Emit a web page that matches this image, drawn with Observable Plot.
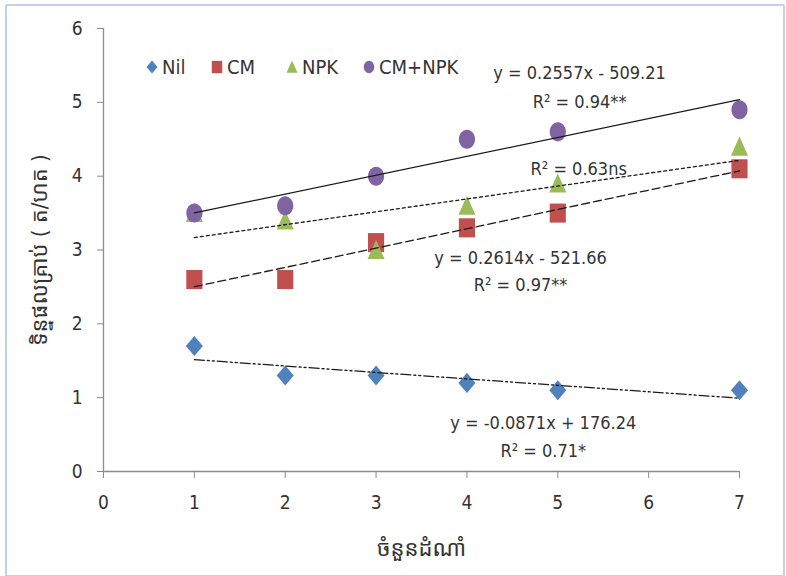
<!DOCTYPE html>
<html>
<head>
<meta charset="utf-8">
<script src="https://cdn.jsdelivr.net/npm/d3@7"></script>
<script src="https://cdn.jsdelivr.net/npm/@observablehq/plot@0.6"></script>
<style>
  html, body { margin: 0; padding: 0; background: #fff; }
  #wrap { position: relative; width: 786px; height: 576px; overflow: hidden;
          font-family: "Liberation Sans Narrow", "DejaVu Sans Condensed", "Open Sans", sans-serif; }
  #frame { position: absolute; left: 5px; top: 4px; width: 776px; height: 569px;
           border: 2px solid #bcd3ee; border-radius: 2px; pointer-events: none; }
  #legend { position: absolute; left: 145px; top: 55px; display: flex; align-items: center;
            font-size: 20px; color: #333; }
  #legend .item { display: flex; align-items: center; }
  #legend .item:nth-child(1) { width: 65px; }
  #legend .item:nth-child(2) { width: 75px; }
  #legend .item:nth-child(3) { width: 77px; }
  #legend svg { margin-right: 3px; }
  #chart { position: absolute; left: 0; top: 0; }
  #chart g[aria-label="x-axis label"], #chart g[aria-label="y-axis label"] { font-size: 22px; }
</style>
</head>
<body>
<div id="wrap">
  <div id="chart"></div>
  <div id="legend"></div>
  <div id="frame"></div>
</div>
<script>
// ---- data ----
const xs = [1, 2, 3, 4, 5, 7];
const nil = [1.7, 1.3, 1.3, 1.2, 1.1, 1.1];
const cm = [2.6, 2.6, 3.1, 3.3, 3.5, 4.1];
const npk = [3.5, 3.4, 3.0, 3.6, 3.9, 4.4];
const cmnpk = [3.5, 3.6, 4.0, 4.5, 4.6, 4.9];
const seriesNames = ["Nil", "CM", "NPK", "CM+NPK"];
const seriesColors = ["#4F81BD", "#C0504D", "#9BBB59", "#8064A2"];
const trendDash = ["10,3,2,3,2,3", "8,4", "3,3", null];
const xTicks = [0, 1, 2, 3, 4, 5, 6, 7];
const yTicks = [0, 1, 2, 3, 4, 5, 6];
const xTitle = "ចំនួនដំណាំ";
const yTitle = "ទិន្នផលគ្រាប់ ( ត/ហត )";
const annText = ["y = 0.2557x - 509.21", "R² = 0.94**", "R² = 0.63ns",
                 "y = 0.2614x - 521.66", "R² = 0.97**", "y = -0.0871x + 176.24", "R² = 0.71*"];
const annX = [5.24, 5.24, 5.23, 4.59, 4.59, 4.84, 4.84];
const annY = [5.39, 5.0, 4.1, 2.89, 2.52, 0.66, 0.28];

// ---- symbols (slightly taller than wide, like the source) ----
const K = 1.18;
function half(size) { return Math.sqrt(size / Math.PI); }
const symDiamond = { draw(c, s) { const a = half(s), b = a * K;
  c.moveTo(0, -b); c.lineTo(a, 0); c.lineTo(0, b); c.lineTo(-a, 0); c.closePath(); } };
const symSquare = { draw(c, s) { const a = half(s) * 0.95, b = a * K;
  c.moveTo(-a, -b); c.lineTo(a, -b); c.lineTo(a, b); c.lineTo(-a, b); c.closePath(); } };
const symTriangle = { draw(c, s) { const a = half(s), b = a * K;
  c.moveTo(0, -b); c.lineTo(a, b * 0.9); c.lineTo(-a, b * 0.9); c.closePath(); } };
const symEllipse = { draw(c, s) { const a = half(s) * 0.95, b = a * K, k = 0.5523;
  c.moveTo(a, 0);
  c.bezierCurveTo(a, b * k, a * k, b, 0, b);
  c.bezierCurveTo(-a * k, b, -a, b * k, -a, 0);
  c.bezierCurveTo(-a, -b * k, -a * k, -b, 0, -b);
  c.bezierCurveTo(a * k, -b, a, -b * k, a, 0);
  c.closePath(); } };
const symbols = [symDiamond, symSquare, symTriangle, symEllipse];

const seriesValues = [nil, cm, npk, cmnpk];
const tables = seriesValues.map((vals, i) => xs.map((x, j) => ({x, y: vals[j], series: seriesNames[i]})));
const annotations = annText.map((t, i) => ({text: t, x: annX[i], y: annY[i]}));

const font = '"Liberation Sans Narrow", "DejaVu Sans Condensed", "Noto Sans Khmer", "Khmer OS", sans-serif';

const marks = [
  Plot.ruleY([0], {stroke: "#8c8c8c", strokeWidth: 1.3}),
  Plot.ruleX([0], {stroke: "#8c8c8c", strokeWidth: 1.3}),
  Plot.axisX({ticks: xTicks, tickFormat: d3.format("d"), tickSize: 7, tickPadding: 17, stroke: "#8c8c8c", fill: "#333",
              fontSize: 19, label: xTitle, labelAnchor: "center", labelArrow: "none", labelOffset: 84}),
  Plot.axisY({ticks: yTicks, tickFormat: d3.format("d"), tickSize: 6, tickPadding: 15, stroke: "#8c8c8c", fill: "#333",
              fontSize: 19, label: yTitle, labelAnchor: "center", labelArrow: "none", labelOffset: 72}),
  ...tables.map((t, i) => Plot.dot(t, {x: "x", y: "y", r: 8.5, symbol: symbols[i], fill: seriesColors[i], stroke: null})),
  ...tables.map((t, i) => Plot.linearRegressionY(t, {x: "x", y: "y", ci: 0, stroke: "#1a1a1a",
              strokeWidth: 1.3, strokeDasharray: trendDash[i] || undefined})),
  Plot.text(annotations, {x: "x", y: "y", text: "text", fontSize: 18, fill: "#333"})
];

const chart = Plot.plot({
  width: 786, height: 576,
  marginLeft: 103, marginRight: 47, marginTop: 28, marginBottom: 105,
  x: {domain: [0, 7], axis: null},
  y: {domain: [0, 6], axis: null},
  style: {fontFamily: font, background: "#fff", overflow: "visible"},
  marks
});
document.getElementById("chart").appendChild(chart);

// ---- legend ----
const legend = d3.select("#legend");
seriesNames.forEach((name, i) => {
  const item = legend.append("div").attr("class", "item");
  const svg = item.append("svg").attr("width", 14).attr("height", 16);
  const p = d3.path();
  symbols[i].draw(p, Math.PI * 5.5 * 5.5);
  svg.append("path").attr("transform", "translate(7,8)").attr("d", p.toString()).attr("fill", seriesColors[i]);
  item.append("span").text(name);
});
</script>
</body>
</html>
